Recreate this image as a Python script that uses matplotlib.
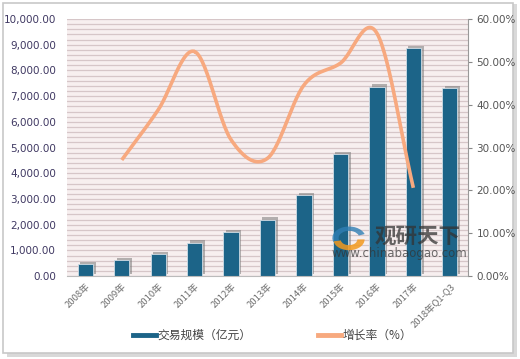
import numpy as np
import matplotlib
matplotlib.use("Agg")
import matplotlib.pyplot as plt
from matplotlib.patches import Rectangle, Wedge
from matplotlib.lines import Line2D

plt.rcParams['font.family'] = ['Noto Sans CJK SC', 'DejaVu Sans']

categories = ['2008年', '2009年', '2010年', '2011年', '2012年', '2013年',
              '2014年', '2015年', '2016年', '2017年', '2018年Q1-Q3']
volume = [470, 620, 860, 1300, 1700, 2200, 3140, 4730, 7370, 8880, 7300]
growth_cats = categories[1:10]
growth = [27.1, 38.8, 52.4, 31.8, 27.5, 44.6, 49.7, 56.7, 20.6]
left_ticks = [0, 1000, 2000, 3000, 4000, 5000, 6000, 7000, 8000, 9000, 10000]
right_ticks = [0, 10, 20, 30, 40, 50, 60]

BAR = '#1c6488'
LINE = '#f7a97f'

fig = plt.figure(figsize=(5.2, 3.59), dpi=100)
# outer frame with shadow
fig.patches.append(Rectangle((0.013, 0.005), 0.982, 0.985, transform=fig.transFigure,
                             facecolor='#d9d9d9', edgecolor='none', zorder=-10))
fig.patches.append(Rectangle((0.006, 0.018), 0.98, 0.975, transform=fig.transFigure,
                             facecolor='white', edgecolor='#c8c8c8', lw=1.2, zorder=-9))

ax = fig.add_axes([0.129, 0.231, 0.771, 0.716])
ax.set_facecolor('#f7efef')
x = np.arange(len(categories))

# horizontal stripes
for v in np.arange(0, 10001, 200):
    ax.axhline(v, color='#d6c6c8', lw=0.9, zorder=0)

w = 0.42
# shadows
ax.bar(x + 0.07, volume, width=w, bottom=[90]*len(volume), color='#7a7a7a', alpha=0.55, zorder=1)
ax.bar(x, volume, width=w, color=BAR, edgecolor='#d0dde6', lw=0.6, zorder=2)

ax.set_xlim(-0.5, len(categories) - 0.5)
ax.set_ylim(0, 10000)
ax.set_yticks(left_ticks)
ax.set_yticklabels([f'{v:,.2f}' for v in left_ticks], fontsize=7.5, color='#3f3862',
                   family='DejaVu Sans')
ax.set_xticks(x)
ax.set_xticklabels(categories, rotation=45, ha='right', rotation_mode='anchor',
                   fontsize=6.8, color='#707070')
ax.tick_params(axis='y', length=0, pad=8)
ax.tick_params(axis='x', length=0, pad=4)
for s in ['top', 'right', 'left']:
    ax.spines[s].set_visible(False)
ax.spines['bottom'].set_color('#bbbbbb')

ax2 = ax.twinx()
ax2.set_ylim(0, 60)
ax2.set_yticks(right_ticks)
ax2.set_yticklabels([f'{v:.2f}%' for v in right_ticks], fontsize=7.5, color='#555555',
                    family='DejaVu Sans')
ax2.tick_params(axis='y', length=3, color='#888888', pad=3)
for s in ['top', 'left', 'bottom']:
    ax2.spines[s].set_visible(False)
ax2.spines['right'].set_color('#999999')

# smooth line (Catmull-Rom through data points)
gx = np.array([categories.index(c) for c in growth_cats], dtype=float)
gy = np.array(growth, dtype=float)
P = np.column_stack([gx, gy])
P_ext = np.vstack([2 * P[0] - P[1], P, 2 * P[-1] - P[-2]])
xs, ys = [], []
t = np.linspace(0, 1, 30)
for i in range(1, len(P_ext) - 2):
    p0, p1, p2, p3 = P_ext[i - 1], P_ext[i], P_ext[i + 1], P_ext[i + 2]
    c = 0.5 * ((2 * p1)[None, :] + (-p0 + p2)[None, :] * t[:, None]
               + (2 * p0 - 5 * p1 + 4 * p2 - p3)[None, :] * t[:, None] ** 2
               + (-p0 + 3 * p1 - 3 * p2 + p3)[None, :] * t[:, None] ** 3)
    xs.extend(c[:, 0]); ys.extend(c[:, 1])
ax2.plot(xs, ys, color=LINE, lw=2.6, solid_capstyle='butt', zorder=3)

# watermark (logo + text)
lx, ly = 349 / 520, 1 - 238 / 359
fig.patches.append(Wedge((lx, ly), 0.032, 20, 200, width=0.012, transform=fig.transFigure,
                         facecolor='#2f7fb5', alpha=0.8, zorder=5))
fig.patches.append(Wedge((lx, ly - 0.004), 0.03, 190, 360, width=0.014, transform=fig.transFigure,
                         facecolor='#f39a1e', alpha=0.85, zorder=5))
fig.text(375 / 520, 1 - 236 / 359, '观研天下', fontsize=15.5, fontweight='bold', color='#333333',
         alpha=0.75, va='center', zorder=6)
fig.text(332 / 520, 1 - 254 / 359, 'www.chinabaogao.com', fontsize=8.5, color='#333333',
         alpha=0.7, va='center', family='DejaVu Sans', zorder=6)

leg1 = fig.legend([Line2D([], [], color=BAR, lw=3.5)], ['交易规模（亿元）'], loc='center left',
                  bbox_to_anchor=(122 / 520, 0.065), frameon=False, fontsize=8.5,
                  handlelength=2.0, handletextpad=0.1, labelcolor='#444444')
leg2 = fig.legend([Line2D([], [], color=LINE, lw=3.5)], ['增长率（%）'], loc='center left',
                  bbox_to_anchor=(307 / 520, 0.065), frameon=False, fontsize=8.5,
                  handlelength=2.0, handletextpad=0.1, labelcolor='#444444')

fig.savefig('out.png', dpi=100)
